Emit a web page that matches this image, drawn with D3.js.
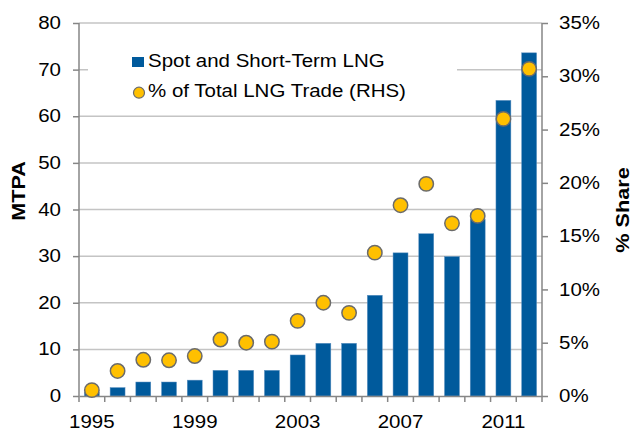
<!DOCTYPE html>
<html>
<head>
<meta charset="utf-8">
<script src="https://cdn.jsdelivr.net/npm/d3@7"></script>
<style>
  body { margin: 0; background: #fff; }
  text { font-family: "Liberation Sans", Arial, sans-serif; }
</style>
</head>
<body>
<div class="canvas"></div>
<script>
// data
const years = d3.range(1995, 2013);
const spotVolume = [0.7, 1.8, 3.0, 3.0, 3.4, 5.5, 5.5, 5.5, 8.8, 11.3, 11.3, 21.6, 30.7, 34.8, 29.9, 37.9, 63.4, 73.6];
const shareOfTrade = [0.55, 2.35, 3.4, 3.35, 3.75, 5.3, 5.0, 5.1, 7.05, 8.75, 7.8, 13.45, 17.9, 19.9, 16.2, 16.9, 26.0, 30.7];
const yearLabels = [1995, 1999, 2003, 2007, 2011];
const leftTicks = [0, 10, 20, 30, 40, 50, 60, 70, 80];
const rightTicks = [0, 5, 10, 15, 20, 25, 30, 35];

const width = 632, height = 430;
const margin = { top: 23, right: 90, bottom: 34, left: 79 };
const graphWidth = width - margin.left - margin.right;
const graphHeight = height - margin.top - margin.bottom;
const fontSize = 17.5;

const svg = d3.select('.canvas')
    .append('svg')
    .attr('width', width)
    .attr('height', height);

const graph = svg.append('g')
    .attr('transform', `translate(${margin.left}, ${margin.top})`);

// scales
const x = d3.scaleBand().domain(years).range([0, graphWidth]).paddingInner(0.42).paddingOuter(0.21);
const xEdge = d3.scaleBand().domain(years).range([0, graphWidth]);
const y = d3.scaleLinear().domain([0, 80]).range([graphHeight, 0]);
const y2 = d3.scaleLinear().domain([0, 35]).range([graphHeight, 0]);

// gridlines
graph.append('g')
    .selectAll('line')
    .data(leftTicks.slice(1))
    .enter().append('line')
    .attr('x1', 0).attr('x2', graphWidth)
    .attr('y1', d => y(d)).attr('y2', d => y(d))
    .attr('stroke', '#c4c4c4')
    .attr('stroke-width', 1.5);

// legend background covers gridlines
const legend = svg.append('g').attr('transform', 'translate(88, 36)');
legend.append('rect')
    .attr('width', 369).attr('height', 74)
    .attr('fill', '#fff');

// bars
graph.selectAll('rect.bar')
    .data(spotVolume)
    .enter().append('rect')
    .attr('class', 'bar')
    .attr('x', (d, i) => x(years[i]))
    .attr('width', x.bandwidth())
    .attr('y', d => y(d))
    .attr('height', d => graphHeight - y(d))
    .attr('fill', '#005a9c')
    .attr('stroke', '#5b8fc0')
    .attr('stroke-width', 0.5);

// axes
const axisColor = '#868686';
const xAxis = d3.axisBottom(xEdge).tickSize(0).tickFormat('');
const xAxisGroup = graph.append('g')
    .attr('transform', `translate(0, ${graphHeight})`)
    .call(xAxis);
xAxisGroup.select('.domain').attr('stroke', axisColor).attr('stroke-width', 1.5);
xAxisGroup.selectAll('line.edge')
    .data(years.concat([2013]))
    .enter().append('line')
    .attr('class', 'edge')
    .attr('x1', (d, i) => i * xEdge.step()).attr('x2', (d, i) => i * xEdge.step())
    .attr('y1', 0).attr('y2', 6)
    .attr('stroke', axisColor).attr('stroke-width', 1.5);
xAxisGroup.selectAll('text.yr')
    .data(yearLabels)
    .enter().append('text')
    .attr('class', 'yr')
    .attr('x', d => xEdge(d) + xEdge.bandwidth() / 2)
    .attr('y', 31.5)
    .attr('text-anchor', 'middle')
    .attr('font-size', fontSize)
    .attr('fill', '#000')
    .text(d => d);

const yAxis = d3.axisLeft(y).tickValues(leftTicks).tickSize(6).tickPadding(12);
const yAxisGroup = graph.append('g').call(yAxis);
yAxisGroup.select('.domain').attr('stroke', axisColor).attr('stroke-width', 1.5).attr('d', `M0,0V${graphHeight}`);
yAxisGroup.selectAll('.tick line').attr('stroke', axisColor).attr('stroke-width', 1.5);
yAxisGroup.selectAll('.tick text').attr('font-size', fontSize).attr('fill', '#000')
    .attr('font-family', '"Liberation Sans", Arial, sans-serif');

const y2Axis = d3.axisRight(y2).tickValues(rightTicks).tickSize(6).tickPadding(11)
    .tickFormat(d => d + '%');
const y2AxisGroup = graph.append('g')
    .attr('transform', `translate(${graphWidth}, 0)`)
    .call(y2Axis);
y2AxisGroup.select('.domain').attr('stroke', axisColor).attr('stroke-width', 1.5).attr('d', `M0,0V${graphHeight}`);
y2AxisGroup.selectAll('.tick line').attr('stroke', axisColor).attr('stroke-width', 1.5);
y2AxisGroup.selectAll('.tick text').attr('font-size', fontSize).attr('fill', '#000')
    .attr('font-family', '"Liberation Sans", Arial, sans-serif');

// share markers
graph.selectAll('circle.share')
    .data(shareOfTrade)
    .enter().append('circle')
    .attr('class', 'share')
    .attr('cx', (d, i) => xEdge(years[i]) + xEdge.bandwidth() / 2)
    .attr('cy', d => y2(d))
    .attr('r', 7.2)
    .attr('fill', '#ffc000')
    .attr('stroke', '#6b6b6b')
    .attr('stroke-width', 1.5);

// axis titles
svg.append('text')
    .attr('transform', 'translate(25, 191) rotate(-90)')
    .attr('text-anchor', 'middle')
    .attr('font-size', 18.5)
    .attr('font-weight', 'bold')
    .text('MTPA');
svg.append('text')
    .attr('transform', 'translate(629, 210) rotate(-90)')
    .attr('text-anchor', 'middle')
    .attr('font-size', 18.5)
    .attr('font-weight', 'bold')
    .text('% Share');

// legend entries
legend.append('rect')
    .attr('x', 44).attr('y', 21)
    .attr('width', 12).attr('height', 10)
    .attr('fill', '#005a9c');
legend.append('circle')
    .attr('cx', 51).attr('cy', 56.7)
    .attr('r', 5.5)
    .attr('fill', '#ffc000')
    .attr('stroke', '#6b6b6b')
    .attr('stroke-width', 1.2);
legend.append('text')
    .attr('x', 60).attr('y', 31)
    .attr('font-size', fontSize)
    .text('Spot and Short-Term LNG');
legend.append('text')
    .attr('x', 60).attr('y', 61)
    .attr('font-size', fontSize)
    .text('% of Total LNG Trade (RHS)');

// the reference type runs wider than Liberation Sans, stretch every label a bit
svg.selectAll('text').each(function() {
    const len = this.getComputedTextLength();
    d3.select(this)
        .attr('textLength', len * 1.17)
        .attr('lengthAdjust', 'spacingAndGlyphs');
});
</script>
</body>
</html>
